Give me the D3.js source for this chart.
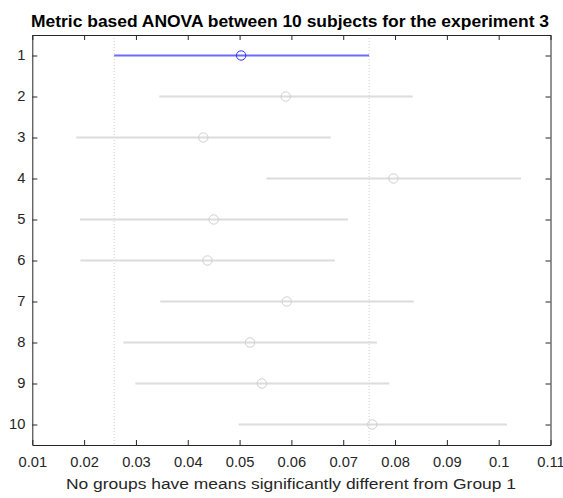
<!DOCTYPE html>
<html>
<head>
<meta charset="utf-8">
<script src="https://cdn.jsdelivr.net/npm/d3@7"></script>
<style>
  body { margin: 0; background: #fff; }
  text { font-family: Arial, "Liberation Sans", Helvetica, sans-serif; }
</style>
</head>
<body>
<svg id="canvas" width="563" height="498"></svg>
<script>
// groups, means and comparison interval ends
let groups = [1, 2, 3, 4, 5, 6, 7, 8, 9, 10]
let means = [0.0503, 0.0589, 0.0430, 0.0797, 0.0450, 0.0438, 0.0591, 0.0520, 0.0543, 0.0756]
let lowers = [0.0258, 0.0345, 0.0185, 0.0552, 0.0192, 0.0193, 0.0347, 0.0276, 0.0299, 0.0498]
let uppers = [0.0750, 0.0834, 0.0676, 0.1043, 0.0709, 0.0684, 0.0836, 0.0765, 0.0789, 0.1016]
let xTicks = [0.01, 0.02, 0.03, 0.04, 0.05, 0.06, 0.07, 0.08, 0.09, 0.1, 0.11]
let xTickLabels = ['0.01', '0.02', '0.03', '0.04', '0.05', '0.06', '0.07', '0.08', '0.09', '0.1', '0.11']
let selected = 1

let canvas = d3.select('#canvas')
let plotLeft = 32.3, plotRight = 550.5, plotTop = 35, plotBottom = 445
let axisColor = '#262626'
let stretch = 1.05 // reference glyphs are a bit wider than Arial

let xScale = d3.scaleLinear().domain([0.01, 0.11]).range([plotLeft, plotRight])
let yScale = d3.scaleLinear().domain([0.5, 10.5]).range([plotTop, plotBottom])

let rows = groups.map((g, i) => {
    return { group: g, mean: means[i], lo: lowers[i], hi: uppers[i] }
})
let sel = rows[selected - 1]

// dotted reference lines at the selected group's interval
canvas.selectAll('line.ref')
      .data([sel.lo, sel.hi])
      .enter()
      .append('line')
      .attr('class', 'ref')
      .attr('x1', (v) => xScale(v))
      .attr('x2', (v) => xScale(v))
      .attr('y1', plotTop)
      .attr('y2', plotBottom)
      .attr('stroke', '#d0d0d0')
      .attr('stroke-width', 1)
      .attr('stroke-dasharray', '1,2')

let block = canvas.selectAll('g.grp')
                  .data(rows)
                  .enter()
                  .append('g')
                  .attr('class', 'grp')

block.append('line')
     .attr('x1', (d) => xScale(d.lo))
     .attr('x2', (d) => xScale(d.hi))
     .attr('y1', (d) => yScale(d.group))
     .attr('y2', (d) => yScale(d.group))
     .attr('stroke', (d) => d.group === selected ? '#6a6aff' : '#dcdcdc')
     .attr('stroke-width', 2)

block.append('circle')
     .attr('cx', (d) => xScale(d.mean))
     .attr('cy', (d) => yScale(d.group))
     .attr('r', 4.7)
     .attr('fill', 'none')
     .attr('stroke', (d) => d.group === selected ? '#2a2aff' : '#cfcfcf')
     .attr('stroke-width', 1)

// axes (MATLAB style box, ticks inside)
let xAxis = d3.axisBottom(xScale).tickValues(xTicks)
              .tickFormat((d, i) => xTickLabels[i])
              .tickSizeInner(-5).tickSizeOuter(0).tickPadding(12)
canvas.append('g')
      .attr('transform', 'translate(0,' + plotBottom + ')')
      .call(xAxis)
canvas.append('g')
      .attr('transform', 'translate(0,' + plotTop + ')')
      .call(d3.axisTop(xScale).tickValues(xTicks).tickFormat('')
              .tickSizeInner(-5).tickSizeOuter(0))

let yAxis = d3.axisLeft(yScale).tickValues(groups)
              .tickFormat(d3.format('d'))
              .tickSizeInner(-5).tickSizeOuter(0).tickPadding(7)
canvas.append('g')
      .attr('transform', 'translate(' + plotLeft + ',0)')
      .call(yAxis)
canvas.append('g')
      .attr('transform', 'translate(' + plotRight + ',0)')
      .call(d3.axisRight(yScale).tickValues(groups).tickFormat('')
              .tickSizeInner(-5).tickSizeOuter(0))

canvas.selectAll('.domain').attr('stroke', axisColor)
canvas.selectAll('.tick line').attr('stroke', axisColor)
canvas.selectAll('.tick text')
      .attr('fill', axisColor)
      .attr('font-size', 14)
      .style('font-size', '14px')
      .style('font-family', 'Arial, "Liberation Sans", sans-serif')
      .each(function () {
          let w = this.getComputedTextLength()
          d3.select(this).attr('textLength', w * stretch).attr('lengthAdjust', 'spacingAndGlyphs')
      })

canvas.append('text')
      .attr('x', 290)
      .attr('y', 27)
      .attr('text-anchor', 'middle')
      .style('font-size', '16px')
      .style('font-weight', 'bold')
      .attr('fill', '#000')
      .attr('textLength', 518)
      .attr('lengthAdjust', 'spacingAndGlyphs')
      .text('Metric based ANOVA between 10 subjects for the experiment 3')

canvas.append('text')
      .attr('x', 291)
      .attr('y', 488.5)
      .attr('text-anchor', 'middle')
      .style('font-size', '14px')
      .attr('fill', axisColor)
      .attr('textLength', 450)
      .attr('lengthAdjust', 'spacingAndGlyphs')
      .text('No groups have means significantly different from Group 1')
</script>
</body>
</html>
